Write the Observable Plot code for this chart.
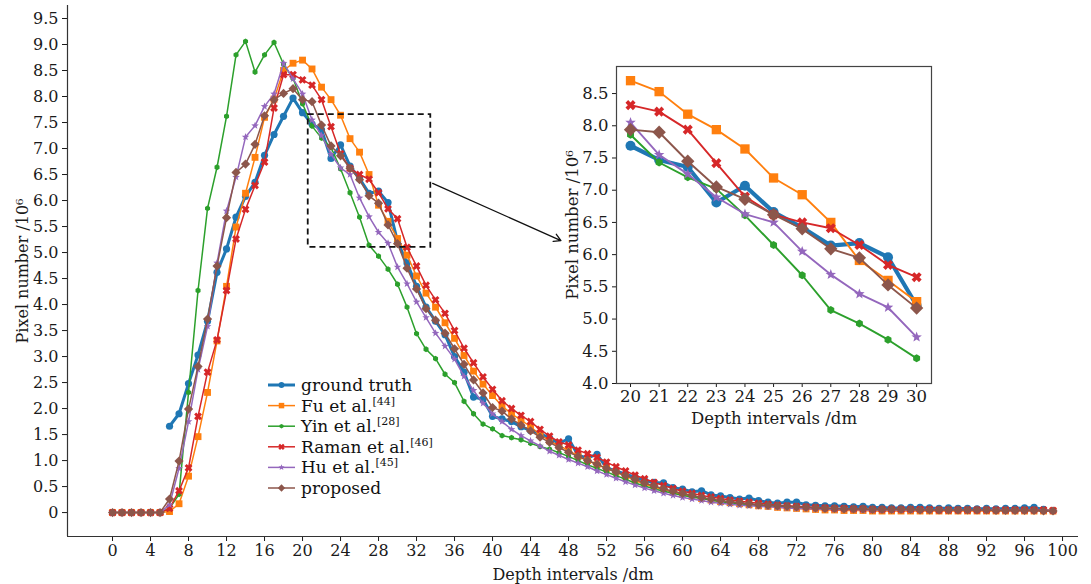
<!DOCTYPE html>
<html><head><meta charset="utf-8">
<script src="https://cdn.jsdelivr.net/npm/d3@7"></script>
<script src="https://cdn.jsdelivr.net/npm/@observablehq/plot@0.6"></script>
<style>
body{margin:0;background:#fff;}
#wrap{position:relative;width:1091px;height:584px;overflow:hidden;background:#fff;}
#wrap svg{position:absolute;left:0;top:0;}
</style></head><body><div id="wrap"></div>
<script>
// ---------------- data ----------------
const depth = Array.from({length: 100}, (_, i) => i);
const seriesNames = ["ground truth", "Fu et al.", "Yin et al.", "Raman et al.", "Hu et al.", "proposed"];
const seriesRefs  = ["", "[44]", "[28]", "[46]", "[45]", ""];
const groundTruth = [null,null,null,null,null,null,
 1.66,1.90,2.48,3.03,3.68,4.62,5.07,5.68,6.08,6.35,6.87,7.27,7.62,7.97,
 7.69,7.47,7.36,6.81,7.07,6.66,6.42,6.14,6.18,5.96,
 5.21,4.80,4.35,3.95,3.68,3.42,3.00,2.70,2.22,2.18,
 1.85,1.80,1.75,1.65,1.58,1.52,1.43,1.33,1.42,1.10,
 1.05,1.12,0.86,0.80,0.74,0.68,0.62,0.58,0.57,0.48,
 0.45,0.40,0.42,0.34,0.32,0.29,0.26,0.28,0.23,0.20,
 0.18,0.20,0.20,0.15,0.14,0.13,0.13,0.12,0.11,0.12,
 0.10,0.10,0.09,0.09,0.10,0.10,0.09,0.08,0.09,0.08,
 0.08,0.07,0.08,0.07,0.08,0.08,0.09,0.10,0.06,null];
const fu = [0,0,0,0,0,0,0.02,0.17,0.70,1.46,
 2.31,3.30,4.35,5.49,6.14,6.83,7.60,7.95,8.50,8.64,
 8.70,8.53,8.18,7.94,7.64,7.19,6.93,6.50,5.91,5.60,
 5.27,4.95,4.55,4.22,3.95,3.65,3.35,3.02,2.72,2.47,
 2.25,2.05,1.90,1.78,1.65,1.50,1.38,1.28,1.20,1.08,
 1.00,0.92,0.85,0.78,0.70,0.62,0.55,0.49,0.44,0.39,
 0.35,0.31,0.27,0.24,0.21,0.19,0.17,0.15,0.13,0.12,
 0.10,0.09,0.08,0.07,0.06,0.05,0.05,0.04,0.04,0.04,
 0.03,0.03,0.03,0.03,0.03,0.03,0.03,0.03,0.03,0.03,
 0.03,0.03,0.03,0.03,0.03,0.03,0.03,0.03,0.03,0.03];
const yin = [0,0,0,0,0,0,0.08,0.35,2.31,4.27,
 5.85,6.64,7.62,8.80,9.06,8.47,8.80,9.04,8.62,8.35,
 7.86,7.43,7.20,7.02,6.61,6.15,5.68,5.14,4.93,4.68,
 4.39,3.95,3.44,3.14,2.96,2.66,2.50,2.14,1.90,1.70,
 1.61,1.48,1.44,1.40,1.33,1.27,1.22,1.15,1.08,1.00,
 0.92,0.85,0.78,0.71,0.64,0.57,0.51,0.46,0.41,0.37,
 0.33,0.30,0.27,0.24,0.21,0.19,0.17,0.15,0.14,0.13,
 0.12,0.11,0.10,0.09,0.09,0.08,0.08,0.07,0.07,0.07,
 0.06,0.06,0.06,0.06,0.06,0.06,0.05,0.05,0.05,0.05,
 0.05,0.05,0.05,0.05,0.05,0.05,0.05,0.05,0.05,0.04];
const raman = [0,0,0,0,0,0,0.08,0.42,0.86,1.85,
 2.70,3.32,4.27,5.26,5.83,6.29,6.74,7.78,8.42,8.42,
 8.32,8.22,7.94,7.42,6.90,6.62,6.50,6.41,6.15,5.84,
 5.65,5.10,4.74,4.37,4.09,3.83,3.50,3.16,2.88,2.61,
 2.37,2.15,2.00,1.87,1.75,1.60,1.47,1.36,1.30,1.20,
 1.13,1.06,0.97,0.88,0.80,0.72,0.65,0.58,0.52,0.46,
 0.41,0.37,0.33,0.30,0.27,0.24,0.22,0.20,0.18,0.16,
 0.14,0.13,0.12,0.11,0.10,0.09,0.08,0.08,0.07,0.07,
 0.06,0.06,0.06,0.06,0.06,0.06,0.06,0.05,0.05,0.05,
 0.05,0.05,0.05,0.05,0.05,0.05,0.05,0.05,0.05,0.04];
const hu = [0,0,0,0,0,0,0.15,0.85,1.75,2.75,
 3.58,4.80,5.80,6.45,7.22,7.44,7.81,8.05,8.64,8.34,
 8.05,7.55,7.25,6.89,6.63,6.50,6.05,5.69,5.39,5.18,
 4.72,4.40,4.05,3.75,3.45,3.20,2.95,2.62,2.35,2.10,
 1.90,1.75,1.60,1.48,1.38,1.28,1.18,1.10,1.02,0.95,
 0.88,0.80,0.73,0.66,0.59,0.53,0.47,0.42,0.37,0.33,
 0.29,0.26,0.23,0.20,0.18,0.16,0.14,0.13,0.12,0.11,
 0.10,0.09,0.08,0.08,0.07,0.07,0.06,0.06,0.06,0.05,
 0.05,0.05,0.05,0.05,0.05,0.05,0.05,0.05,0.05,0.05,
 0.05,0.05,0.05,0.05,0.04,0.04,0.04,0.04,0.04,0.04];
const proposed = [0,0,0,0,0,0,0.26,0.99,1.99,2.81,
 3.72,4.74,5.67,6.54,6.70,7.08,7.63,7.94,8.06,8.15,
 7.94,7.90,7.45,7.05,6.86,6.62,6.40,6.09,5.95,5.53,
 5.17,4.70,4.30,3.92,3.70,3.45,3.15,2.85,2.55,2.30,
 2.02,1.95,1.80,1.68,1.57,1.45,1.35,1.25,1.16,1.08,
 1.00,0.93,0.85,0.78,0.71,0.64,0.57,0.51,0.46,0.41,
 0.37,0.33,0.29,0.26,0.23,0.21,0.19,0.17,0.15,0.14,
 0.13,0.12,0.11,0.10,0.09,0.08,0.08,0.07,0.07,0.07,
 0.06,0.06,0.06,0.06,0.06,0.05,0.05,0.05,0.05,0.05,
 0.05,0.05,0.05,0.04,0.04,0.04,0.04,0.04,0.03,0.03];
const xTicks = [0,4,8,12,16,20,24,28,32,36,40,44,48,52,56,60,64,68,72,76,80,84,88,92,96,100];
const yTicks = [0,0.5,1,1.5,2,2.5,3,3.5,4,4.5,5,5.5,6,6.5,7,7.5,8,8.5,9,9.5];
const insetXTicks = [20,21,22,23,24,25,26,27,28,29,30];
const insetYTicks = [4.0,4.5,5.0,5.5,6.0,6.5,7.0,7.5,8.0,8.5];
const insetRange = [20, 30];
const zoomBox = [{x1: 20.6, x2: 33.5, y1: 5.1, y2: 7.65}];
const pointer = [{x1: 33.7, y1: 6.33, x2: 47.2, y2: 5.23}];

// ---------------- styling ----------------
const colors = ["#1f77b4", "#ff7f0e", "#2ca02c", "#d62728", "#9467bd", "#8c564b"];
const allValues = [groundTruth, fu, yin, raman, hu, proposed];
const rad = s => Math.sqrt(s / Math.PI);
const symSquare = {draw(c, s){const r = rad(s)*0.88; c.moveTo(-r,-r); c.lineTo(r,-r); c.lineTo(r,r); c.lineTo(-r,r); c.closePath();}};
const symHex = {draw(c, s){const r = rad(s); for (let k = 0; k < 6; ++k){const a = Math.PI/3*k - Math.PI/2; const px = r*Math.cos(a), py = r*Math.sin(a); k ? c.lineTo(px,py) : c.moveTo(px,py);} c.closePath();}};
const symX = {draw(c, s){const a = rad(s)*1.05, b = a*0.36;
  const pts = [[b,-a],[b,-b],[a,-b],[a,b],[b,b],[b,a],[-b,a],[-b,b],[-a,b],[-a,-b],[-b,-b],[-b,-a]];
  pts.forEach(([x,y],k)=>{const X=(x-y)/Math.SQRT2, Y=(x+y)/Math.SQRT2; k ? c.lineTo(X,Y) : c.moveTo(X,Y);}); c.closePath();}};
const symDiamond = {draw(c, s){const r = rad(s)*1.15; c.moveTo(0,-r); c.lineTo(r,0); c.lineTo(0,r); c.lineTo(-r,0); c.closePath();}};
const symStar = {draw(c, s){const R = rad(s)*1.25, r0 = R*0.42;
  for (let k = 0; k < 10; ++k){const a = Math.PI/5*k - Math.PI/2; const rr = k % 2 ? r0 : R; const px = rr*Math.cos(a), py = rr*Math.sin(a); k ? c.lineTo(px,py) : c.moveTo(px,py);} c.closePath();}};
const symbols = ["circle", symSquare, symHex, symX, symStar, symDiamond];
const mainR   = [3.6, 3.9, 2.9, 3.9, 3.2, 4.0];
const mainW   = [3.0, 1.5, 1.5, 1.5, 1.5, 1.5];
const insetR  = [5.0, 5.3, 4.0, 5.0, 4.4, 5.8];
const insetW  = [4.2, 1.9, 1.9, 1.9, 1.9, 1.9];

const tables = allValues.map((vals, k) => depth.map(d => ({d, v: vals[d], k})).filter(o => o.v != null));

function seriesMarks(rows, k, r, w) {
  return [
    Plot.line(rows, {x: "d", y: "v", stroke: colors[k], strokeWidth: w}),
    Plot.dot(rows, {x: "d", y: "v", fill: colors[k], stroke: "none", r, symbol: symbols[k]})
  ];
}

const fmtY = d => d === 0 ? "0" : d.toFixed(1);
const font = "'DejaVu Serif', serif";

// ---------------- main chart ----------------
const xDom = [-4.74, 101.68], yDom = [-0.46, 9.75];
const main = Plot.plot({
  width: 1091, height: 584,
  marginLeft: 67, marginRight: 13, marginTop: 5, marginBottom: 48,
  style: {fontFamily: font, background: "transparent", color: "#1a1a1a"},
  x: {domain: xDom}, y: {domain: yDom},
  marks: [
    Plot.axisX({ticks: xTicks, tickSize: 5, tickPadding: 3, fontSize: 16, tickFormat: d => String(d),
      label: "Depth intervals /dm", labelAnchor: "center", labelOffset: 43, labelArrow: "none"}),
    Plot.axisY({ticks: yTicks, tickSize: 5, tickPadding: 4, fontSize: 16, tickFormat: fmtY,
      label: "Pixel number /10⁶", labelAnchor: "center", labelOffset: 51, labelArrow: "none"}),
    Plot.ruleX([xDom[0]], {stroke: "#333", strokeWidth: 1.2}),
    Plot.ruleY([yDom[0]], {stroke: "#333", strokeWidth: 1.2}),
    ...tables.flatMap((rows, k) => seriesMarks(rows, k, mainR[k], mainW[k])),
    Plot.rect(zoomBox, {x1: "x1", x2: "x2", y1: "y1", y2: "y2", fill: "none", stroke: "#111", strokeWidth: 1.8, strokeDasharray: "6,4"}),
    Plot.arrow(pointer, {x1: "x1", y1: "y1", x2: "x2", y2: "y2", stroke: "#111", strokeWidth: 1.3, headLength: 9})
  ]
});

// ---------------- inset ----------------
const insetTables = tables.map(rows => rows.filter(o => o.d >= insetRange[0] && o.d <= insetRange[1]));
const inset = Plot.plot({
  width: 1091, height: 584,
  marginLeft: 616, marginRight: 160, marginTop: 66, marginBottom: 201,
  style: {fontFamily: font, background: "transparent", color: "#1a1a1a"},
  x: {domain: [19.51, 30.52]}, y: {domain: [4.0, 8.92]},
  marks: [
    Plot.frame({fill: "white", stroke: "none"}),
    Plot.axisX({ticks: insetXTicks, tickSize: 4, tickPadding: 3, fontSize: 16.5, tickFormat: d => String(d),
      label: "Depth intervals /dm", labelAnchor: "center", labelOffset: 40, labelArrow: "none"}),
    Plot.axisY({ticks: insetYTicks, tickSize: 4, tickPadding: 4, fontSize: 16.5, tickFormat: d => d.toFixed(1),
      label: "Pixel number /10⁶", labelAnchor: "center", labelOffset: 50, labelArrow: "none"}),
    ...insetTables.flatMap((rows, k) => seriesMarks(rows, k, insetR[k], insetW[k])),
    Plot.frame({stroke: "#444", strokeWidth: 1.2})
  ]
});

// ---------------- legend ----------------
const legend = d3.create("svg").attr("width", 1091).attr("height", 584)
  .attr("font-family", font).style("pointer-events", "none");
seriesNames.forEach((name, k) => {
  const g = legend.append("g").attr("transform", `translate(268,${385 + k * 20.6})`);
  g.append("line").attr("x1", 0).attr("x2", 27).attr("stroke", colors[k]).attr("stroke-width", mainW[k]);
  g.append("path").attr("transform", "translate(13.5,0)").attr("fill", colors[k])
    .attr("d", d3.symbol(symbols[k] === "circle" ? d3.symbolCircle : symbols[k], Math.PI * (mainR[k]*0.8) ** 2)());
  const t = g.append("text").attr("x", 33).attr("y", 6).attr("font-size", 17).attr("fill", "#111").text(name);
  if (seriesRefs[k]) t.append("tspan").attr("dy", -7).attr("font-size", 11).text(seriesRefs[k]);
});

const wrap = document.getElementById("wrap");
wrap.append(main, inset, legend.node());
</script>
</body></html>
